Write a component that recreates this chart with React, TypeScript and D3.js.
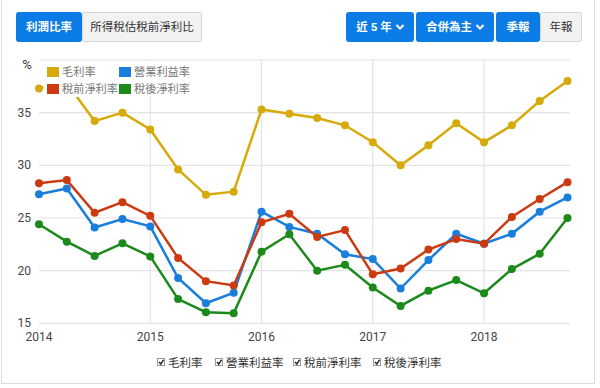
import * as d3 from "d3";

// quarterly points, 2014Q1 .. 2018Q4
const quarters = [
  2014, 2014.25, 2014.5, 2014.75, 2015, 2015.25, 2015.5, 2015.75,
  2016, 2016.25, 2016.5, 2016.75, 2017, 2017.25, 2017.5, 2017.75,
  2018, 2018.25, 2018.5, 2018.75,
];
const grossMargin = [
  37.3, 37.8, 34.2, 35.0, 33.4, 29.6, 27.2, 27.5, 35.3, 34.9,
  34.5, 33.8, 32.2, 30.0, 31.9, 34.0, 32.2, 33.8, 36.1, 38.0,
];
const operatingMargin = [
  27.25, 27.8, 24.1, 24.9, 24.2, 19.3, 16.9, 17.9, 25.6, 24.15,
  23.5, 21.55, 21.1, 18.3, 21.0, 23.5, 22.55, 23.5, 25.6, 26.95,
];
const preTaxMargin = [
  28.3, 28.6, 25.5, 26.5, 25.2, 21.2, 19.0, 18.6, 24.6, 25.4,
  23.2, 23.85, 19.65, 20.2, 22.0, 23.0, 22.55, 25.1, 26.8, 28.4,
];
const afterTaxMargin = [
  24.4, 22.75, 21.4, 22.6, 21.35, 17.3, 16.05, 15.95, 21.8, 23.45,
  20.0, 20.55, 18.4, 16.65, 18.1, 19.1, 17.85, 20.15, 21.6, 25.0,
];
const seriesNames = ["毛利率", "營業利益率", "稅前淨利率", "稅後淨利率"];
const seriesColors = ["#d6aa0a", "#1a7fdc", "#cc3a12", "#1b8a1b"];
const yTicks = [15, 20, 25, 30, 35, 40];
const xTicks = [2014, 2015, 2016, 2017, 2018];

const FONT = "Roboto, 'Noto Sans CJK TC', sans-serif";
const BLUE = "#0b7ce6";

function Chevron({ x, y }: { x: number; y: number }) {
  return (
    <path
      d={`M${x - 3.5},${y - 2} L${x},${y + 1.5} L${x + 3.5},${y - 2}`}
      fill="none"
      stroke="#fff"
      strokeWidth={2}
    />
  );
}

function Button(props: {
  x: number;
  w: number;
  label: string;
  active: boolean;
  chevron?: boolean;
}) {
  const { x, w, label, active, chevron } = props;
  const tx = chevron ? x + w / 2 - 6 : x + w / 2;
  return (
    <g>
      <rect
        x={x + 0.5}
        y={12.5}
        width={w - 1}
        height={29}
        rx={2}
        fill={active ? BLUE : "#f2f2f2"}
        stroke={active ? BLUE : "#d6d6d6"}
      />
      <text
        x={tx}
        y={27}
        textAnchor="middle"
        dominantBaseline="central"
        fontSize={11.5}
        fontWeight={active ? 700 : 400}
        fill={active ? "#fff" : "#333"}
      >
        {label}
      </text>
      {chevron && <Chevron x={x + w - 14} y={27} />}
    </g>
  );
}

export default function App() {
  const series = [grossMargin, operatingMargin, preTaxMargin, afterTaxMargin];

  const plotLeft = 39;
  const plotRight = 570;
  const x = d3.scaleLinear().domain([2014, 2018.75]).range([39, 567.5]);
  const y = d3.scaleLinear().domain([15, 40]).range([323.3, 60]);

  const line = d3
    .line<number>()
    .x((_, i) => x(quarters[i]))
    .y((d) => y(d));

  const bottomLegend = [
    { box: 157, text: 168 },
    { box: 215, text: 226 },
    { box: 293, text: 304 },
    { box: 373, text: 384 },
  ];

  return (
    <div style={{ position: "absolute", left: 0, top: 0 }}>
      <svg width={600} height={388} fontFamily={FONT} style={{ display: "block" }}>
        <rect x={0} y={0} width={600} height={388} fill="#fff" />
        {/* outer frame */}
        <line x1={1.5} y1={0} x2={1.5} y2={384} stroke="#ddd" />
        <line x1={594.5} y1={0} x2={594.5} y2={384} stroke="#ddd" />
        <line x1={1.5} y1={383.5} x2={594.5} y2={383.5} stroke="#ddd" />

        {/* buttons */}
        <Button x={16} w={66} label="利潤比率" active />
        <Button x={82} w={120} label="所得稅估稅前淨利比" active={false} />
        <Button x={346} w={68} label="近 5 年" active chevron />
        <Button x={416} w={78} label="合併為主" active chevron />
        <Button x={496} w={44} label="季報" active />
        <Button x={540} w={42} label="年報" active={false} />

        {/* grid */}
        {yTicks.map((t) => (
          <g key={t}>
            <line
              x1={plotLeft}
              x2={plotRight}
              y1={y(t)}
              y2={y(t)}
              stroke="#e3e3e3"
              strokeWidth={1.2}
            />
            <text
              x={31}
              y={y(t)}
              textAnchor="end"
              dominantBaseline="central"
              fontSize={12}
              fill="#444"
            >
              {t === 40 ? "" : t}
            </text>
          </g>
        ))}
        {xTicks.map((t) => (
          <g key={t}>
            {t > 2014 && (
              <line
                x1={x(t)}
                x2={x(t)}
                y1={y(40)}
                y2={y(15)}
                stroke="#e3e3e3"
                strokeWidth={1.2}
              />
            )}
            <text
              x={x(t)}
              y={337}
              textAnchor="middle"
              dominantBaseline="central"
              fontSize={12}
              fill="#444"
            >
              {t}
            </text>
          </g>
        ))}
        <text x={27} y={64} textAnchor="middle" dominantBaseline="central" fontSize={13} fill="#333">
          %
        </text>

        {/* lines */}
        {series.map((s, si) => (
          <g key={si}>
            <path d={line(s) ?? ""} fill="none" stroke={seriesColors[si]} strokeWidth={2.5} />
            {s.map((v, i) => (
              <circle key={i} cx={x(quarters[i])} cy={y(v)} r={4} fill={seriesColors[si]} />
            ))}
          </g>
        ))}

        {/* legend inside plot */}
        <rect x={43.5} y={61} width={160} height={36} fill="#fff" />
        {seriesNames.map((name, i) => {
          const lx = i % 2 === 0 ? 47 : 119;
          const ly = i < 2 ? 72 : 89;
          return (
            <g key={name}>
              <rect x={lx} y={ly - 5} width={12} height={10} fill={seriesColors[i]} />
              <text x={lx + 15} y={ly} dominantBaseline="central" fontSize={11.2} fill="#777">
                {name}
              </text>
            </g>
          );
        })}

        {/* bottom checkbox legend */}
        {seriesNames.map((name, i) => {
          const b = bottomLegend[i];
          return (
            <g key={name}>
              <rect x={b.box + 0.5} y={358.5} width={7} height={7} fill="#fff" stroke="#999" />
              <path
                d={`M${b.box + 2},${362} L${b.box + 3.8},${364} L${b.box + 6.5},${359.8}`}
                fill="none"
                stroke="#222"
                strokeWidth={1.4}
              />
              <text x={b.text} y={363} dominantBaseline="central" fontSize={11.5} fill="#333">
                {name}
              </text>
            </g>
          );
        })}
      </svg>
    </div>
  );
}
